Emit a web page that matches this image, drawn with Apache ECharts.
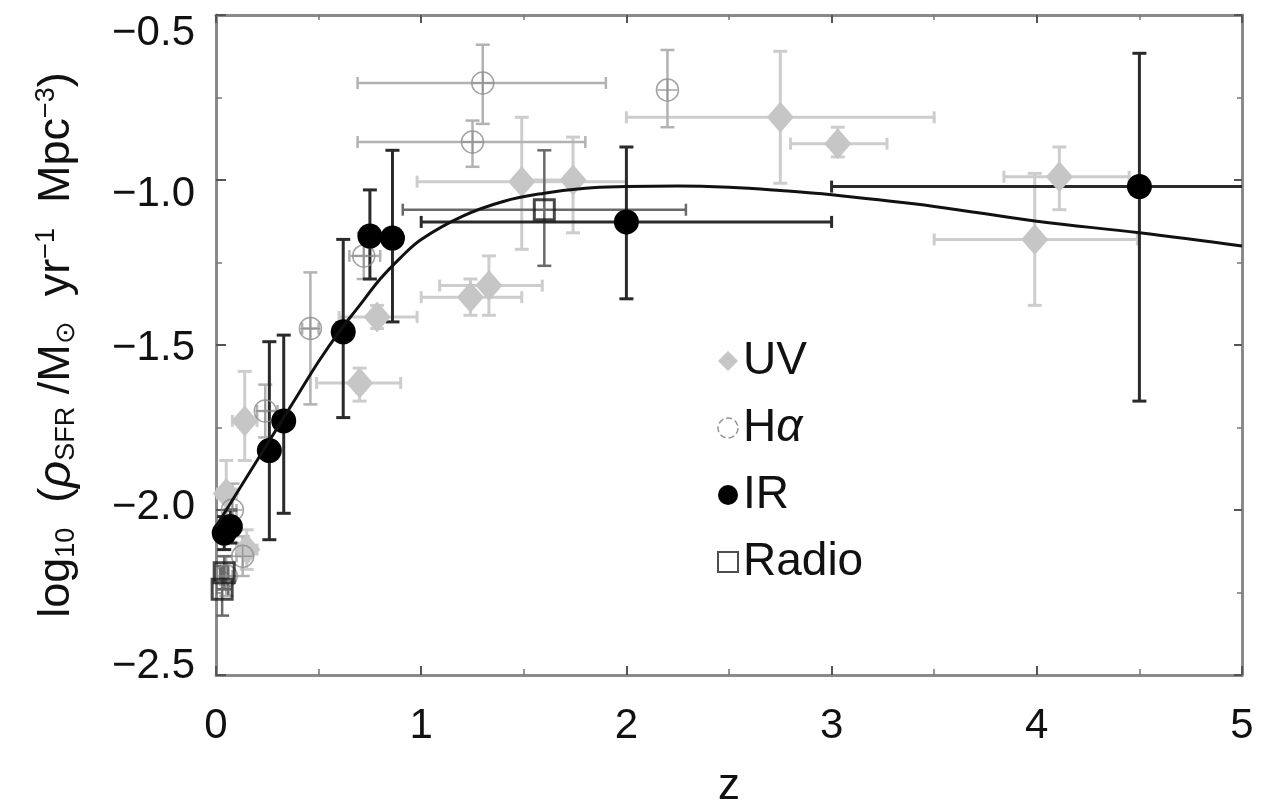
<!DOCTYPE html>
<html>
<head>
<meta charset="utf-8">
<script src="https://cdn.jsdelivr.net/npm/echarts@6/dist/echarts.min.js"></script>
<style>
html,body{margin:0;padding:0;background:#fff;}
#chart{width:1261px;height:801px;}
</style>
</head>
<body>
<div id="chart"></div>
<script>
// Each point: [z, value, zLow, zHigh, valueLow, valueHigh]
const uvPoints = [
  [2.75, -0.81, 2.00, 3.50, -1.01, -0.61],
  [3.03, -0.89, 2.80, 3.27, -0.93, -0.84],
  [3.99, -1.18, 3.50, 4.49, -1.38, -0.98],
  [4.11, -0.99, 3.84, 4.45, -1.09, -0.90],
  [1.49, -1.005, 0.98, 2.00, -1.21, -0.81],
  [1.74, -1.00, 1.50, 1.77, -1.16, -0.87],
  [1.33, -1.32, 1.09, 1.59, -1.41, -1.23],
  [1.24, -1.355, 1.00, 1.49, -1.41, -1.30],
  [0.70, -1.615, 0.49, 0.90, -1.67, -1.57],
  [0.785, -1.415, 0.60, 0.98, -1.45, -1.38],
  [0.14, -1.73, 0.08, 0.20, -1.85, -1.58],
  [0.05, -1.95, 0.00, 0.10, -2.05, -1.85],
  [0.15, -2.12, 0.10, 0.20, -2.18, -2.06]
];
const haPoints = [
  [1.30, -0.706, 0.69, 1.90, -0.83, -0.59],
  [1.25, -0.885, 0.69, 1.80, -0.96, -0.82],
  [2.20, -0.727, 2.20, 2.20, -0.84, -0.606],
  [0.72, -1.23, 0.65, 0.80, -1.30, -1.16],
  [0.46, -1.45, 0.42, 0.50, -1.68, -1.28],
  [0.24, -1.70, 0.20, 0.30, -1.78, -1.62],
  [0.08, -2.00, 0.05, 0.10, -2.10, -1.92],
  [0.13, -2.14, 0.10, 0.16, -2.20, -2.08],
  [0.05, -2.20, 0.02, 0.08, -2.26, -2.14]
];
const irPoints = [
  [4.50, -1.02, 3.00, 5.20, -1.67, -0.616],
  [2.00, -1.127, 1.00, 3.00, -1.36, -0.90],
  [0.86, -1.176, 0.86, 0.86, -1.43, -0.91],
  [0.75, -1.17, 0.75, 0.75, -1.30, -1.03],
  [0.62, -1.46, 0.62, 0.62, -1.72, -1.18],
  [0.33, -1.73, 0.33, 0.33, -2.01, -1.47],
  [0.26, -1.82, 0.26, 0.26, -2.09, -1.49],
  [0.07, -2.05, 0.03, 0.10, -2.10, -2.00],
  [0.04, -2.07, 0.02, 0.06, -2.12, -2.02]
];
const radioPoints = [
  [1.60, -1.09, 0.91, 2.29, -1.26, -0.91],
  [0.03, -2.24, 0.00, 0.06, -2.32, -2.17],
  [0.04, -2.19, 0.02, 0.06, -2.24, -2.14]
];
// fitted SFR history curve: [z, log10 rho]
const fitCurve = [
  [0, -2.05], [0.1, -1.95], [0.2, -1.85], [0.3, -1.75], [0.4, -1.65],
  [0.5, -1.55], [0.6, -1.46], [0.7, -1.38], [0.8, -1.30], [0.9, -1.235],
  [1.0, -1.18], [1.2, -1.11], [1.4, -1.065], [1.6, -1.04], [1.8, -1.025],
  [2.0, -1.02], [2.25, -1.018], [2.5, -1.022], [2.75, -1.032], [3.0, -1.045],
  [3.5, -1.08], [4.0, -1.125], [4.5, -1.16], [5.0, -1.20]
];
const xTicks = [0, 1, 2, 3, 4, 5];
const yTicks = [-2.5, -2.0, -1.5, -1.0, -0.5];

const FONT = '"Liberation Sans", Arial, Helvetica, sans-serif';

function errRenderer(color, width) {
  return function (params, api) {
    const x = api.value(0), y = api.value(1);
    const x0 = api.value(2), x1 = api.value(3), y0 = api.value(4), y1 = api.value(5);
    const style = { stroke: color, lineWidth: width, fill: null };
    const ch = [];
    const capV = 6, capH = 7;
    if (x1 > x0) {
      const a = api.coord([x0, y]), b = api.coord([x1, y]);
      ch.push({ type: 'line', shape: { x1: a[0], y1: a[1], x2: b[0], y2: b[1] }, style });
      ch.push({ type: 'line', shape: { x1: a[0], y1: a[1] - capV, x2: a[0], y2: a[1] + capV }, style });
      ch.push({ type: 'line', shape: { x1: b[0], y1: b[1] - capV, x2: b[0], y2: b[1] + capV }, style });
    }
    if (y1 > y0) {
      const a = api.coord([x, y0]), b = api.coord([x, y1]);
      ch.push({ type: 'line', shape: { x1: a[0], y1: a[1], x2: b[0], y2: b[1] }, style });
      ch.push({ type: 'line', shape: { x1: a[0] - capH, y1: a[1], x2: a[0] + capH, y2: a[1] }, style });
      ch.push({ type: 'line', shape: { x1: b[0] - capH, y1: b[1], x2: b[0] + capH, y2: b[1] }, style });
    }
    return { type: 'group', children: ch };
  };
}

const haPath = 'path://M0,10 A10,10 0 1,1 20,10 A10,10 0 1,1 0,10 Z M10,1 L10,19 M1,10 L19,10';

// label style keys per tick (labels in the figure sit slightly off their ticks)
const yLabelKey = { '-0.5': 'a', '-1.0': 'b', '-1.5': 'c', '-2.0': 'd', '-2.5': 'e' };
const lblBase = { fontFamily: FONT, fontSize: 42, color: '#111' };

const axisLineStyle = { color: '#8a8a8a', width: 3 };
const chart = echarts.init(document.getElementById('chart'));
chart.setOption({
  animation: false,
  backgroundColor: '#fff',
  grid: { left: 216, top: 15, right: 19, bottom: 126, containLabel: false, outerBoundsMode: 'none' },
  legend: {
    orient: 'vertical', left: 712, top: 333, itemGap: 21, itemWidth: 20, itemHeight: 20,
    textStyle: { fontFamily: FONT, fontSize: 46, color: '#111',
      rich: { n: { fontFamily: FONT, fontSize: 46, color: '#111' }, i: { fontFamily: FONT, fontSize: 46, color: '#111', fontStyle: 'italic' } } },
    formatter: name => name === 'Hα' ? '{n|H}{i|α}' : name,
    data: [
      { name: 'UV', icon: 'diamond', itemStyle: { color: '#c6c6c6', borderWidth: 0 } },
      { name: 'Hα', icon: 'circle', itemStyle: { color: '#fff', borderColor: '#777', borderWidth: 1.5, borderType: 'dashed' } },
      { name: 'IR', icon: 'circle', itemStyle: { color: '#000', borderWidth: 0 } },
      { name: 'Radio', icon: 'rect', itemStyle: { color: '#fff', borderColor: '#222', borderWidth: 2 } }
    ]
  },
  xAxis: [{
    type: 'value', min: xTicks[0], max: xTicks[xTicks.length - 1], interval: 1,
    name: 'z', nameLocation: 'middle', nameGap: 90,
    nameTextStyle: { fontFamily: FONT, fontSize: 44, color: '#111' },
    axisLine: { onZero: false, lineStyle: axisLineStyle },
    axisTick: { inside: true, length: 9, lineStyle: { color: '#555', width: 2 } },
    minorTick: { show: true, splitNumber: 2, length: 6, lineStyle: { color: '#777', width: 1.5 } },
    splitLine: { show: false },
    axisLabel: { margin: 30, fontFamily: FONT, fontSize: 42, color: '#111' }
  }, {
    type: 'value', position: 'top', min: 0, max: 5, interval: 1,
    axisLine: { onZero: false, lineStyle: axisLineStyle },
    axisTick: { inside: true, length: 8, lineStyle: { color: '#555', width: 2 } },
    minorTick: { show: true, splitNumber: 2, length: 5, lineStyle: { color: '#777', width: 1.5 } },
    splitLine: { show: false }, axisLabel: { show: false }
  }],
  yAxis: [{
    type: 'value', min: yTicks[0], max: yTicks[yTicks.length - 1], interval: 0.5,
    name: '{t|log}{s|10}{t|  (}{r|ρ}{s|SFR}{t| /M}{s|⊙}{t|  yr}{p|−1}{t|  Mpc}{p|−3}{t|)}',
    nameLocation: 'middle', nameGap: 136, nameRotate: 90,
    nameTextStyle: {
      fontFamily: FONT, color: '#111',
      rich: {
        t: { fontFamily: FONT, fontSize: 45, color: '#111', verticalAlign: 'middle' },
        r: { fontFamily: FONT, fontSize: 47, color: '#111', fontStyle: 'italic', verticalAlign: 'middle' },
        s: { fontFamily: FONT, fontSize: 27, color: '#111', verticalAlign: 'bottom', padding: [20, 0, 0, 0] },
        p: { fontFamily: FONT, fontSize: 27, color: '#111', verticalAlign: 'top', padding: [0, 0, 20, 0] }
      }
    },
    axisLine: { onZero: false, lineStyle: axisLineStyle },
    axisTick: { inside: true, length: 10, lineStyle: { color: '#555', width: 2 } },
    minorTick: { show: true, splitNumber: 2, length: 6, lineStyle: { color: '#777', width: 1.5 } },
    splitLine: { show: false },
    axisLabel: {
      margin: 21, fontFamily: FONT, fontSize: 42, color: '#111',
      formatter: v => '{' + (yLabelKey[v.toFixed(1)] || 'c') + '|' + v.toFixed(1).replace('-', '−') + '}',
      rich: {
        a: Object.assign({ padding: [36, 0, 0, 0] }, lblBase),
        b: Object.assign({ padding: [28, 0, 0, 0] }, lblBase),
        c: Object.assign({ padding: [6, 0, 0, 0] }, lblBase),
        d: Object.assign({ padding: [0, 0, 6, 0] }, lblBase),
        e: Object.assign({ padding: [0, 0, 18, 0] }, lblBase)
      }
    }
  }, {
    type: 'value', position: 'right', min: -2.5, max: -0.5, interval: 0.5,
    axisLine: { onZero: false, lineStyle: axisLineStyle },
    axisTick: { inside: true, length: 8, lineStyle: { color: '#555', width: 2 } },
    minorTick: { show: true, splitNumber: 2, length: 5, lineStyle: { color: '#777', width: 1.5 } },
    splitLine: { show: false }, axisLabel: { show: false }
  }],
  series: [
    { name: 'UV err', type: 'custom', clip: true, z: 1, data: uvPoints, encode: { x: 0, y: 1 }, renderItem: errRenderer('#cdcdcd', 3) },
    { name: 'Hα err', type: 'custom', clip: true, z: 1, data: haPoints, encode: { x: 0, y: 1 }, renderItem: errRenderer('#b2b2b2', 2.5) },
    { name: 'Radio err', type: 'custom', clip: true, z: 1, data: radioPoints, encode: { x: 0, y: 1 }, renderItem: errRenderer('#6a6a6a', 2.5) },
    { name: 'IR err', type: 'custom', clip: true, z: 2, data: irPoints, encode: { x: 0, y: 1 }, renderItem: errRenderer('#2a2a2a', 3) },
    { name: 'UV', type: 'scatter', z: 3, symbol: 'diamond', symbolSize: [27, 31], data: uvPoints.map(p => [p[0], p[1]]),
      itemStyle: { color: '#c6c6c6', opacity: 1 } },
    { name: 'Hα', type: 'scatter', z: 3, symbol: haPath, symbolSize: 22, data: haPoints.map(p => [p[0], p[1]]),
      itemStyle: { color: 'rgba(255,255,255,0)', borderColor: '#8c8c8c', borderWidth: 1.5 } },
    { name: 'Radio', type: 'scatter', z: 4, symbol: 'rect', symbolSize: 20, data: radioPoints.map(p => [p[0], p[1]]),
      itemStyle: { color: 'rgba(255,255,255,0)', borderColor: '#1a1a1a', borderWidth: 3 } },
    { name: 'IR', type: 'scatter', z: 4, symbol: 'circle', symbolSize: 25, data: irPoints.map(p => [p[0], p[1]]),
      itemStyle: { color: '#000', opacity: 1 } },
    { name: 'fit', type: 'line', z: 5, smooth: 0.4, symbol: 'none', data: fitCurve,
      lineStyle: { color: '#111', width: 3 } }
  ]
});
</script>
</body>
</html>
